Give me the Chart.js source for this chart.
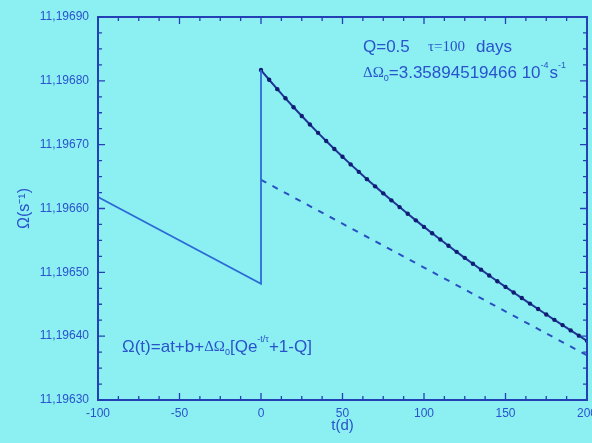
<!DOCTYPE html>
<html>
<head>
<meta charset="utf-8">
<script src="https://cdn.jsdelivr.net/npm/chart.js@4/dist/chart.umd.min.js"></script>
<style>
html,body{margin:0;padding:0;background:#8cf0f2;}
#wrap{width:592px;height:443px;position:relative;overflow:hidden;}
canvas{display:block;}
</style>
</head>
<body>
<div id="wrap"><canvas id="c" width="592" height="443"></canvas></div>
<script>
// ---- data ----
const preT = [-100, 0, 0];
const preOmega = [11.196618, 11.196482, 11.196817];

const dashT = [0, 200];
const dashOmega = [11.196645, 11.196370];

const curveT = [0,5,10,15,20,25,30,35,40,45,50,55,60,65,70,75,80,85,90,95,100,
                105,110,115,120,125,130,135,140,145,150,155,160,165,170,175,180,185,190,195,200];
const curveOmega = [11.1968169,11.1968017,11.1967870,11.1967726,11.1967586,11.1967449,11.1967315,
  11.1967185,11.1967057,11.1966933,11.1966811,11.1966691,11.1966574,11.1966460,11.1966347,
  11.1966237,11.1966128,11.1966022,11.1965917,11.1965814,11.1965712,11.1965613,11.1965514,
  11.1965417,11.1965321,11.1965227,11.1965134,11.1965042,11.1964951,11.1964861,11.1964772,
  11.1964684,11.1964597,11.1964510,11.1964425,11.1964340,11.1964256,11.1964173,11.1964090,
  11.1964008,11.1963927];

const xTicks = [-100, -50, 0, 50, 100, 150, 200];
const yTicks = [11.1963, 11.1964, 11.1965, 11.1966, 11.1967, 11.1968, 11.1969];
const xTitle = 't(d)';
const yTitle = 'Ω(s⁻¹)';

// ---- styling ----
const BLUE = '#2a52cc';
const AXIS = '#2340b4';
const SANS = '"Liberation Sans", Arial, sans-serif';
const SERIF = '"Liberation Serif", "Times New Roman", serif';

const toPts = (xs, ys) => xs.map((x, i) => ({x: x, y: ys[i]}));

const bgPlugin = {
  id: 'bg',
  beforeDraw(chart) {
    const c = chart.ctx;
    c.save();
    c.fillStyle = '#8cf0f2';
    c.fillRect(0, 0, chart.width, chart.height);
    c.restore();
  }
};

const framePlugin = {
  id: 'frame',
  afterDatasetsDraw(chart) {
    const c = chart.ctx;
    const a = chart.chartArea;
    const xs = chart.scales.x, ys = chart.scales.y;
    c.save();
    c.strokeStyle = AXIS;
    c.lineWidth = 2;
    c.strokeRect(a.left, a.top, a.right - a.left, a.bottom - a.top);
    c.lineWidth = 1.3;
    const xStepMinor = (xTicks[1] - xTicks[0]) / 4;
    for (let i = 0; ; i++) {
      const v = xTicks[0] + i * xStepMinor;
      if (v > xTicks[xTicks.length - 1] + 1e-9) break;
      const px = xs.getPixelForValue(v);
      const len = (i % 4 === 0) ? 7 : 4;
      c.beginPath();
      c.moveTo(px, a.bottom); c.lineTo(px, a.bottom - len);
      c.moveTo(px, a.top); c.lineTo(px, a.top + len);
      c.stroke();
    }
    const yStepMinor = (yTicks[1] - yTicks[0]) / 4;
    for (let i = 0; ; i++) {
      const v = yTicks[0] + i * yStepMinor;
      if (v > yTicks[yTicks.length - 1] + 1e-9) break;
      const py = ys.getPixelForValue(v);
      const len = (i % 4 === 0) ? 7 : 4;
      c.beginPath();
      c.moveTo(a.left, py); c.lineTo(a.left + len, py);
      c.moveTo(a.right, py); c.lineTo(a.right - len, py);
      c.stroke();
    }
    c.restore();
  }
};

function drawRich(c, x, y, segs) {
  for (const s of segs) {
    c.font = s.f;
    c.fillText(s.t, x, y + (s.dy || 0));
    x += c.measureText(s.t).width + (s.gap || 0);
  }
}

const textPlugin = {
  id: 'notes',
  afterDraw(chart) {
    const c = chart.ctx;
    c.save();
    c.fillStyle = BLUE;
    c.textBaseline = 'middle';
    c.textAlign = 'left';
    c.font = '17px ' + SANS;
    c.fillText('Q=0.5', 363, 47);
    c.font = '15px ' + SERIF;
    c.fillText('τ=100', 428, 47);
    c.font = '17px ' + SANS;
    c.fillText('days', 476, 47);
    drawRich(c, 363, 73, [
      {t: 'ΔΩ', f: '15px ' + SERIF},
      {t: '0', f: '9px ' + SANS, dy: 6},
      {t: '=3.35894519466 10', f: '17px ' + SANS},
      {t: '-4', f: '9px ' + SANS, dy: -7, gap: 1},
      {t: 's', f: '17px ' + SANS},
      {t: '-1', f: '9px ' + SANS, dy: -7}
    ]);
    drawRich(c, 122, 347, [
      {t: 'Ω(t)=at+b+', f: '17px ' + SANS},
      {t: 'ΔΩ', f: '15px ' + SERIF},
      {t: '0', f: '9px ' + SANS, dy: 6},
      {t: '[Qe', f: '17px ' + SANS},
      {t: '-t/τ', f: '9px ' + SANS, dy: -7},
      {t: '+1-Q]', f: '17px ' + SANS}
    ]);
    c.restore();
  }
};

new Chart(document.getElementById('c'), {
  type: 'line',
  data: {
    datasets: [
      {label: 'before', data: toPts(preT, preOmega), borderColor: '#2c6ad6', borderWidth: 1.8,
       pointRadius: 0, tension: 0},
      {label: 'linear', data: toPts(dashT, dashOmega), borderColor: '#2a50c2', borderWidth: 2,
       borderDash: [6, 7], pointRadius: 0, tension: 0},
      {label: 'fit', data: toPts(curveT, curveOmega), borderColor: '#1f3597', borderWidth: 2,
       pointRadius: 2.2, pointBackgroundColor: '#111d72', pointBorderWidth: 0, tension: 0}
    ]
  },
  options: {
    responsive: false,
    animation: false,
    devicePixelRatio: 1,
    layout: {padding: {left: 0, right: 5, top: 17, bottom: 0}},
    plugins: {legend: {display: false}, tooltip: {enabled: false}},
    scales: {
      x: {
        type: 'linear', min: -100, max: 200,
        afterBuildTicks: s => { s.ticks = xTicks.map(v => ({value: v})); },
        afterFit: s => { s.height = 43; s.paddingLeft = 0; s.paddingRight = 0; },
        grid: {display: false, drawTicks: false},
        border: {display: false},
        ticks: {color: BLUE, font: {family: SANS, size: 12}, padding: 6, maxRotation: 0,
                autoSkip: false, callback: v => String(v)},
        title: {display: true, text: xTitle, color: BLUE, font: {family: SANS, size: 15},
                padding: {top: 0, bottom: 8}}
      },
      y: {
        type: 'linear', min: yTicks[0], max: yTicks[yTicks.length - 1],
        afterBuildTicks: s => { s.ticks = yTicks.map(v => ({value: v})); },
        afterFit: s => { s.width = 98; s.paddingTop = 0; s.paddingBottom = 0; },
        grid: {display: false, drawTicks: false},
        border: {display: false},
        ticks: {color: BLUE, font: {family: SANS, size: 12}, padding: 9, autoSkip: false,
                callback: v => Number(v).toFixed(5).replace('.', ',')},
        title: {display: true, text: yTitle, color: BLUE, font: {family: SANS, size: 16},
                padding: {top: 15, bottom: 0}}
      }
    }
  },
  plugins: [bgPlugin, framePlugin, textPlugin]
});
</script>
</body>
</html>
